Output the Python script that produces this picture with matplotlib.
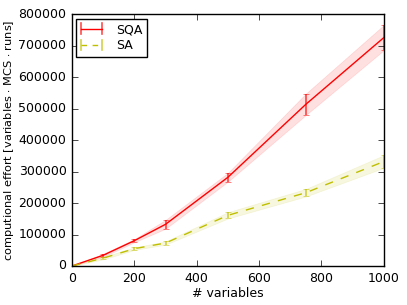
import matplotlib
matplotlib.use("Agg")
import matplotlib.pyplot as plt
import numpy as np
from matplotlib.legend_handler import HandlerBase
from matplotlib.lines import Line2D

plt.style.use('classic')
plt.rcParams['font.family'] = ['DejaVu Sans']
plt.rcParams['font.size'] = 9

n_vars = [0, 100, 200, 300, 500, 750, 1000]
sqa = [0, 34000, 80500, 132500, 282000, 514000, 726000]
sqa_err = [0, 5000, 5000, 14000, 14000, 34000, 40000]
sa = [0, 25000, 55000, 73000, 161000, 233000, 332000]
sa_err = [0, 4000, 4000, 5000, 10000, 12000, 20000]

fig = plt.figure(figsize=(4.07, 3.05), dpi=100)
fig.patch.set_facecolor('white')
ax = fig.add_axes([0.177, 0.128, 0.766, 0.825])


class HHandler(HandlerBase):
    def __init__(self, color, ls):
        super().__init__()
        self.color = color
        self.ls = ls

    def create_artists(self, legend, orig_handle, xdescent, ydescent, width,
                       height, fontsize, trans):
        y = height / 2 - ydescent
        x0, x1 = -xdescent, -xdescent + width
        h = height * 0.6
        line = Line2D([x0, x1], [y, y], color=self.color, ls=self.ls, lw=1,
                      dashes=(4, 4) if self.ls == '--' else (None, None),
                      transform=trans)
        b1 = Line2D([x0, x0], [y - h, y + h], color=self.color, lw=1.2,
                    alpha=0.7, transform=trans)
        b2 = Line2D([x1, x1], [y - h, y + h], color=self.color, lw=1.2,
                    alpha=0.7, transform=trans)
        return [line, b1, b2]


x = np.array(n_vars)
handles = []
handler_map = {}
for y, e, c, ls, lab in [(sqa, sqa_err, 'r', '-', 'SQA'), (sa, sa_err, 'y', '--', 'SA')]:
    y = np.array(y); e = np.array(e)
    ax.plot(x, y, color=c, ls=ls, lw=1)
    ax.errorbar(x, y, yerr=e, fmt='none', ecolor=c, elinewidth=1.2,
                capsize=2, alpha=0.7)
    ax.fill_between(x, y - e, y + e, color=c, alpha=0.12, lw=0.5, edgecolor=c)
    h = Line2D([], [], color=c, ls=ls, label=lab)
    handles.append(h)
    handler_map[h] = HHandler(c, ls)

ax.set_xlim(0, 1000)
ax.set_ylim(0, 800000)
ax.set_xlabel('# variables', fontsize=9, labelpad=2)
ax.set_ylabel('computional effort [variables $\\cdot$ MCS $\\cdot$ runs]',
              fontsize=8.2, labelpad=2)
leg = ax.legend(handles=handles, handler_map=handler_map, loc='upper left',
                fontsize=9, numpoints=1, handlelength=1.7, handletextpad=1.1,
                borderpad=0.35, labelspacing=0.25, borderaxespad=0.35)
fig.savefig('out.png', dpi=100, facecolor='white')
